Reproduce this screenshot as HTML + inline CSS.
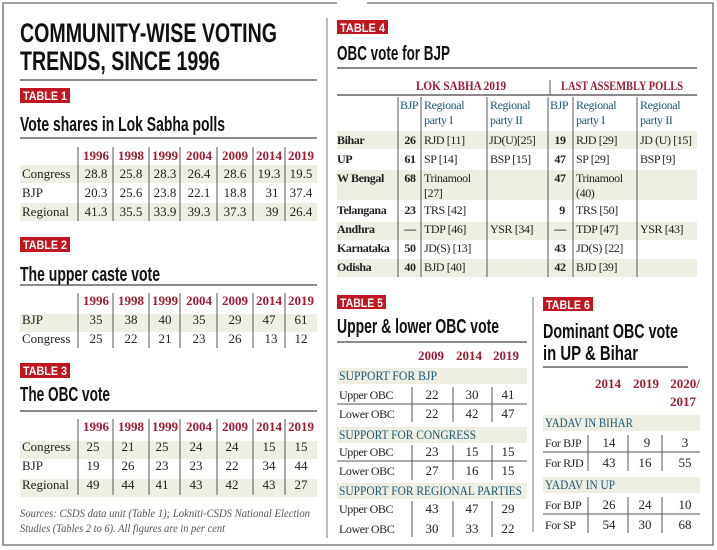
<!DOCTYPE html>
<html><head><meta charset="utf-8"><style>
html,body{margin:0;padding:0;background:#fff}
svg{display:block}
.h{font-family:"Liberation Sans",sans-serif;font-weight:bold;fill:#111}
.b{font-family:"Liberation Sans",sans-serif;font-weight:bold;fill:#fff;font-size:12px}
.s{font-family:"Liberation Serif",serif;font-size:13px;fill:#222}
.sb{font-family:"Liberation Serif",serif;font-size:13px;fill:#222;font-weight:bold}
.y{font-family:"Liberation Serif",serif;font-size:13px;fill:#a01c32;font-weight:bold}
.t{font-family:"Liberation Serif",serif;font-size:13px;fill:#1d5874}
.tc{font-family:"Liberation Serif",serif;font-size:12.5px;fill:#1d5874}
.n{font-size:12px;letter-spacing:-0.4px}
.m{text-anchor:middle}
.r{fill:#c0161f}
.sh{fill:#eeeee2}
.l{stroke:#555;stroke-width:1}
.k{stroke:#444;stroke-width:1.3}
</style></head><body>
<svg width="717" height="550" viewBox="0 0 717 550" xmlns="http://www.w3.org/2000/svg">
<path d="M337 3 H3 V545 H713 V3 H367" fill="none" stroke="#666" stroke-width="1.3"/>
<line x1="327" y1="18" x2="327" y2="538" stroke="#777" stroke-width="1"/>
<line x1="533" y1="297" x2="533" y2="532" stroke="#777" stroke-width="1"/>

<text class="h" x="20" y="42" font-size="27" textLength="257" lengthAdjust="spacingAndGlyphs">COMMUNITY-WISE VOTING</text>
<text class="h" x="20" y="70" font-size="27" textLength="200" lengthAdjust="spacingAndGlyphs">TRENDS, SINCE 1996</text>
<line class="k" x1="20" y1="80" x2="317" y2="80"/>

<rect class="r" x="20" y="88" width="50" height="15"/>
<text class="b" x="23" y="100" textLength="44" lengthAdjust="spacingAndGlyphs">TABLE 1</text>
<text class="h" x="20" y="131" font-size="20" textLength="205" lengthAdjust="spacingAndGlyphs">Vote shares in Lok Sabha polls</text>
<line class="k" x1="20" y1="138" x2="317" y2="138"/>
<rect class="sh" x="20" y="165" width="297" height="18"/>
<rect class="sh" x="20" y="203" width="297" height="18"/>
<g class="l">
<line x1="78" y1="147" x2="78" y2="221"/><line x1="113" y1="147" x2="113" y2="221"/><line x1="149" y1="147" x2="149" y2="221"/><line x1="180" y1="147" x2="180" y2="221"/><line x1="217" y1="147" x2="217" y2="221"/><line x1="253" y1="147" x2="253" y2="221"/><line x1="285" y1="147" x2="285" y2="221"/>
</g>
<g class="y m"><text x="96" y="160">1996</text><text x="131" y="160">1998</text><text x="165" y="160">1999</text><text x="199" y="160">2004</text><text x="235" y="160">2009</text><text x="269" y="160">2014</text><text x="301" y="160">2019</text></g>
<g class="s"><text x="22" y="178">Congress</text><text x="22" y="197">BJP</text><text x="22" y="216">Regional</text></g>
<g class="s m">
<text x="96" y="178">28.8</text><text x="131" y="178">25.8</text><text x="165" y="178">28.3</text><text x="199" y="178">26.4</text><text x="235" y="178">28.6</text><text x="269" y="178">19.3</text><text x="301" y="178">19.5</text>
<text x="96" y="197">20.3</text><text x="131" y="197">25.6</text><text x="165" y="197">23.8</text><text x="199" y="197">22.1</text><text x="235" y="197">18.8</text><text x="272" y="197">31</text><text x="301" y="197">37.4</text>
<text x="96" y="216">41.3</text><text x="131" y="216">35.5</text><text x="165" y="216">33.9</text><text x="199" y="216">39.3</text><text x="235" y="216">37.3</text><text x="272" y="216">39</text><text x="301" y="216">26.4</text>
</g>

<rect class="r" x="20" y="237" width="50" height="15"/>
<text class="b" x="23" y="249" textLength="44" lengthAdjust="spacingAndGlyphs">TABLE 2</text>
<text class="h" x="20" y="281" font-size="20" textLength="140" lengthAdjust="spacingAndGlyphs">The upper caste vote</text>
<line class="k" x1="20" y1="285" x2="317" y2="285"/>
<rect class="sh" x="20" y="314" width="297" height="18"/>
<g class="l">
<line x1="78" y1="293" x2="78" y2="348"/><line x1="113" y1="293" x2="113" y2="348"/><line x1="149" y1="293" x2="149" y2="348"/><line x1="180" y1="293" x2="180" y2="348"/><line x1="217" y1="293" x2="217" y2="348"/><line x1="253" y1="293" x2="253" y2="348"/><line x1="285" y1="293" x2="285" y2="348"/>
</g>
<g class="y m"><text x="96" y="305">1996</text><text x="131" y="305">1998</text><text x="165" y="305">1999</text><text x="199" y="305">2004</text><text x="235" y="305">2009</text><text x="269" y="305">2014</text><text x="301" y="305">2019</text></g>
<g class="s"><text x="22" y="324">BJP</text><text x="22" y="343">Congress</text></g>
<g class="s m">
<text x="96" y="324">35</text><text x="131" y="324">38</text><text x="165" y="324">40</text><text x="199" y="324">35</text><text x="235" y="324">29</text><text x="269" y="324">47</text><text x="301" y="324">61</text>
<text x="96" y="343">25</text><text x="131" y="343">22</text><text x="165" y="343">21</text><text x="199" y="343">23</text><text x="235" y="343">26</text><text x="271" y="343">13</text><text x="301" y="343">12</text>
</g>

<rect class="r" x="20" y="363" width="50" height="15"/>
<text class="b" x="23" y="375" textLength="44" lengthAdjust="spacingAndGlyphs">TABLE 3</text>
<text class="h" x="20" y="401" font-size="20" textLength="90" lengthAdjust="spacingAndGlyphs">The OBC vote</text>
<line class="k" x1="20" y1="411" x2="317" y2="411"/>
<rect class="sh" x="20" y="441" width="297" height="18"/>
<rect class="sh" x="20" y="479" width="297" height="18"/>
<g class="l">
<line x1="78" y1="419" x2="78" y2="495"/><line x1="113" y1="419" x2="113" y2="495"/><line x1="149" y1="419" x2="149" y2="495"/><line x1="180" y1="419" x2="180" y2="495"/><line x1="217" y1="419" x2="217" y2="495"/><line x1="253" y1="419" x2="253" y2="495"/><line x1="285" y1="419" x2="285" y2="495"/>
</g>
<g class="y m"><text x="96" y="431">1996</text><text x="131" y="431">1998</text><text x="165" y="431">1999</text><text x="199" y="431">2004</text><text x="235" y="431">2009</text><text x="269" y="431">2014</text><text x="301" y="431">2019</text></g>
<g class="s"><text x="22" y="451">Congress</text><text x="22" y="470">BJP</text><text x="22" y="489">Regional</text></g>
<g class="s m">
<text x="93" y="451">25</text><text x="128" y="451">21</text><text x="162" y="451">25</text><text x="196" y="451">24</text><text x="232" y="451">24</text><text x="269" y="451">15</text><text x="301" y="451">15</text>
<text x="93" y="470">19</text><text x="128" y="470">26</text><text x="162" y="470">23</text><text x="196" y="470">23</text><text x="232" y="470">22</text><text x="269" y="470">34</text><text x="301" y="470">44</text>
<text x="93" y="489">49</text><text x="128" y="489">44</text><text x="162" y="489">41</text><text x="196" y="489">43</text><text x="232" y="489">42</text><text x="269" y="489">43</text><text x="301" y="489">27</text>
</g>
<text x="20" y="517" font-family="Liberation Serif,serif" font-style="italic" font-size="11.5" fill="#555" textLength="290" lengthAdjust="spacingAndGlyphs">Sources: CSDS data unit (Table 1); Lokniti-CSDS National Election</text>
<text x="20" y="532" font-family="Liberation Serif,serif" font-style="italic" font-size="11.5" fill="#555" textLength="205" lengthAdjust="spacingAndGlyphs">Studies (Tables 2 to 6). All figures are in per cent</text>

<rect class="r" x="337" y="20" width="51" height="14"/>
<text class="b" x="340" y="32" textLength="45" lengthAdjust="spacingAndGlyphs">TABLE 4</text>
<text class="h" x="337" y="60" font-size="20" textLength="113" lengthAdjust="spacingAndGlyphs">OBC vote for BJP</text>
<line class="k" x1="337" y1="68" x2="697" y2="68"/>
<text class="y" x="416" y="90" font-weight="normal" textLength="90" lengthAdjust="spacingAndGlyphs">LOK SABHA 2019</text>
<text class="y" x="561" y="90" font-weight="normal" textLength="122" lengthAdjust="spacingAndGlyphs">LAST ASSEMBLY POLLS</text>
<line class="l" x1="550" y1="80" x2="550" y2="95"/>
<line class="k" x1="337" y1="95" x2="697" y2="95"/>
<rect class="sh" x="337" y="131" width="360" height="18"/>
<rect class="sh" x="337" y="170" width="360" height="30"/>
<rect class="sh" x="337" y="222" width="360" height="18"/>
<rect class="sh" x="337" y="259" width="360" height="18"/>
<g class="l">
<line x1="398" y1="97" x2="398" y2="277"/><line x1="421" y1="97" x2="421" y2="277"/><line x1="487" y1="97" x2="487" y2="277"/><line x1="548" y1="97" x2="548" y2="277"/><line x1="573" y1="97" x2="573" y2="277"/><line x1="637" y1="97" x2="637" y2="277"/>
</g>
<g class="t n">
<text x="400" y="109">BJP</text><text x="424" y="109">Regional</text><text x="424" y="124">party I</text>
<text x="490" y="109">Regional</text><text x="490" y="124">party II</text>
<text x="550" y="109">BJP</text><text x="576" y="109">Regional</text><text x="576" y="124">party I</text>
<text x="640" y="109">Regional</text><text x="640" y="124">party II</text>
</g>
<g class="sb n"><text x="337" y="144">Bihar</text><text x="337" y="163">UP</text><text x="337" y="182">W Bengal</text><text x="337" y="214">Telangana</text><text x="337" y="233">Andhra</text><text x="337" y="252">Karnataka</text><text x="337" y="271">Odisha</text></g>
<g class="sb m n">
<text x="410" y="144">26</text><text x="410" y="163">61</text><text x="410" y="182">68</text><text x="410" y="214">23</text><text x="410" y="233">—</text><text x="410" y="252">50</text><text x="410" y="271">40</text>
<text x="560" y="144">19</text><text x="560" y="163">47</text><text x="560" y="182">47</text><text x="562" y="214">9</text><text x="560" y="233">—</text><text x="560" y="252">43</text><text x="560" y="271">42</text>
</g>
<g class="s n">
<text x="424" y="144">RJD [11]</text><text x="424" y="163">SP [14]</text><text x="424" y="182">Trinamool</text><text x="424" y="197">[27]</text><text x="424" y="214">TRS [42]</text><text x="424" y="233">TDP [46]</text><text x="424" y="252">JD(S) [13]</text><text x="424" y="271">BJD [40]</text>
<text x="489" y="144">JD(U)[25]</text><text x="490" y="163">BSP [15]</text><text x="490" y="233">YSR [34]</text>
<text x="576" y="144">RJD [29]</text><text x="576" y="163">SP [29]</text><text x="576" y="182">Trinamool</text><text x="576" y="197">(40)</text><text x="576" y="214">TRS [50]</text><text x="576" y="233">TDP [47]</text><text x="576" y="252">JD(S) [22]</text><text x="576" y="271">BJD [39]</text>
<text x="640" y="144">JD (U) [15]</text><text x="640" y="163">BSP [9]</text><text x="640" y="233">YSR [43]</text>
</g>

<rect class="r" x="337" y="295" width="49" height="14"/>
<text class="b" x="340" y="307" textLength="43" lengthAdjust="spacingAndGlyphs">TABLE 5</text>
<text class="h" x="337" y="333" font-size="20" textLength="162" lengthAdjust="spacingAndGlyphs">Upper &amp; lower OBC vote</text>
<line class="k" x1="337" y1="342" x2="527" y2="342"/>
<g class="y m"><text x="431" y="360">2009</text><text x="469" y="360">2014</text><text x="506" y="360">2019</text></g>
<rect class="sh" x="337" y="368" width="190" height="16"/>
<rect class="sh" x="337" y="427" width="190" height="16"/>
<rect class="sh" x="337" y="483" width="190" height="16"/>
<text class="tc" x="339" y="380" textLength="98" lengthAdjust="spacingAndGlyphs">SUPPORT FOR BJP</text>
<text class="tc" x="339" y="439" textLength="137" lengthAdjust="spacingAndGlyphs">SUPPORT FOR CONGRESS</text>
<text class="tc" x="339" y="495" textLength="183" lengthAdjust="spacingAndGlyphs">SUPPORT FOR REGIONAL PARTIES</text>
<g class="l">
<line x1="337" y1="404" x2="527" y2="404"/><line x1="337" y1="461" x2="527" y2="461"/>
<line x1="412" y1="387" x2="412" y2="422"/><line x1="453" y1="387" x2="453" y2="422"/><line x1="492" y1="387" x2="492" y2="422"/>
<line x1="412" y1="445" x2="412" y2="480"/><line x1="453" y1="445" x2="453" y2="480"/><line x1="492" y1="445" x2="492" y2="480"/>
<line x1="412" y1="501" x2="412" y2="537"/><line x1="453" y1="501" x2="453" y2="537"/><line x1="492" y1="501" x2="492" y2="537"/>
</g>
<g class="s n"><text x="339" y="399">Upper OBC</text><text x="339" y="418">Lower OBC</text><text x="339" y="456">Upper OBC</text><text x="339" y="475">Lower OBC</text><text x="339" y="513">Upper OBC</text><text x="339" y="533">Lower OBC</text></g>
<g class="s m">
<text x="432" y="399">22</text><text x="472" y="399">30</text><text x="508" y="399">41</text>
<text x="432" y="418">22</text><text x="472" y="418">42</text><text x="508" y="418">47</text>
<text x="432" y="456">23</text><text x="472" y="456">15</text><text x="508" y="456">15</text>
<text x="432" y="475">27</text><text x="472" y="475">16</text><text x="508" y="475">15</text>
<text x="432" y="513">43</text><text x="472" y="513">47</text><text x="508" y="513">29</text>
<text x="432" y="533">30</text><text x="472" y="533">33</text><text x="508" y="533">22</text>
</g>

<rect class="r" x="543" y="297" width="50" height="14"/>
<text class="b" x="546" y="309" textLength="44" lengthAdjust="spacingAndGlyphs">TABLE 6</text>
<text class="h" x="543" y="338" font-size="20" textLength="135" lengthAdjust="spacingAndGlyphs">Dominant OBC vote</text>
<text class="h" x="543" y="360" font-size="20" textLength="95" lengthAdjust="spacingAndGlyphs">in UP &amp; Bihar</text>
<line class="k" x1="543" y1="367" x2="688" y2="367"/>
<g class="y m"><text x="608" y="388">2014</text><text x="646" y="388">2019</text><text x="685" y="388">2020/</text><text x="683" y="406">2017</text></g>
<rect class="sh" x="543" y="415" width="157" height="16"/>
<rect class="sh" x="543" y="477" width="157" height="16"/>
<text class="tc" x="545" y="427" textLength="88" lengthAdjust="spacingAndGlyphs">YADAV IN BIHAR</text>
<text class="tc" x="545" y="489" textLength="70" lengthAdjust="spacingAndGlyphs">YADAV IN UP</text>
<g class="l">
<line x1="543" y1="452" x2="700" y2="452"/><line x1="543" y1="514" x2="700" y2="514"/>
<line x1="588" y1="435" x2="588" y2="471"/><line x1="628" y1="435" x2="628" y2="471"/><line x1="662" y1="435" x2="662" y2="471"/>
<line x1="588" y1="497" x2="588" y2="533"/><line x1="628" y1="497" x2="628" y2="533"/><line x1="662" y1="497" x2="662" y2="533"/>
</g>
<g class="s n"><text x="545" y="447">For BJP</text><text x="545" y="467">For RJD</text><text x="545" y="509">For BJP</text><text x="545" y="529">For SP</text></g>
<g class="s m">
<text x="609" y="447">14</text><text x="647" y="447">9</text><text x="685" y="447">3</text>
<text x="609" y="467">43</text><text x="645" y="467">16</text><text x="685" y="467">55</text>
<text x="609" y="509">26</text><text x="645" y="509">24</text><text x="685" y="509">10</text>
<text x="609" y="529">54</text><text x="645" y="529">30</text><text x="685" y="529">68</text>
</g>
</svg>
</body></html>
